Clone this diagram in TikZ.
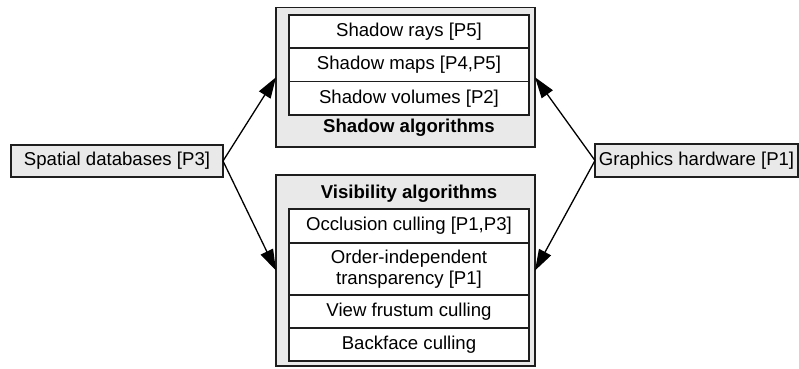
\documentclass[tikz,border=0pt]{standalone}
\usepackage{fontspec}
\setmainfont{Liberation Sans}
\usetikzlibrary{arrows.meta}
\definecolor{panelgray}{RGB}{233,233,233}
\definecolor{edgedark}{RGB}{30,30,30}
\begin{document}
\begin{tikzpicture}[x=1bp,y=-1bp,
  every node/.style={font=\fontsize{18.6bp}{21bp}\selectfont, inner sep=0pt, outer sep=0pt},
  panel/.style={draw=edgedark, line width=1.7bp, fill=panelgray, minimum width=259bp},
  cell/.style={draw=edgedark, line width=1.1bp, fill=white, minimum width=240bp, align=center},
  source/.style={draw=edgedark, line width=1.6bp, fill=panelgray, minimum height=32.5bp},
  paneltitle/.style={font=\fontsize{18.6bp}{21bp}\selectfont\bfseries, anchor=base},
  link/.style={draw=black, line width=1.3bp, -{Triangle[length=21bp,width=13.5bp]}}
]
\useasboundingbox (0,0) rectangle (799,368);

% group panels
\node[panel, minimum height=139.5bp] (shadow) at (405.5,77.25) {};
\node[panel, minimum height=191bp] (visibility) at (405.5,270.5) {};

% shadow algorithm rows
\node[cell, minimum height=33bp] (srays) at (409,31.5) {Shadow rays [P5]};
\node[cell, minimum height=33.5bp] (smaps) at (409,64.75) {Shadow maps [P4,P5]};
\node[cell, minimum height=33.5bp] (svols) at (409,98.25) {Shadow volumes [P2]};
\node[paneltitle] (stitle) at (409,132) {Shadow algorithms};

% visibility algorithm rows
\node[paneltitle] (vtitle) at (409,198) {Visibility algorithms};
\node[cell, minimum height=34bp] (occl) at (409,226) {Occlusion culling [P1,P3]};
\node[cell, minimum height=52bp] (oit) at (409,269) {Order-independent\\transparency [P1]};
\node[cell, minimum height=33bp] (frust) at (409,311.5) {View frustum culling};
\node[cell, minimum height=33bp] (back) at (409,344.5) {Backface culling};

% contributing topics
\node[source, minimum width=212bp] (spatial) at (117,161) {Spatial databases [P3]};
\node[source, minimum width=203bp] (gfx) at (696.5,160.5) {Graphics hardware [P1]};

% connectors
\draw[link] (spatial.east) -- (shadow.west);
\draw[link] (spatial.east) -- (visibility.west);
\draw[link] (gfx.west) -- (shadow.east);
\draw[link] (gfx.west) -- (visibility.east);
\end{tikzpicture}
\end{document}
